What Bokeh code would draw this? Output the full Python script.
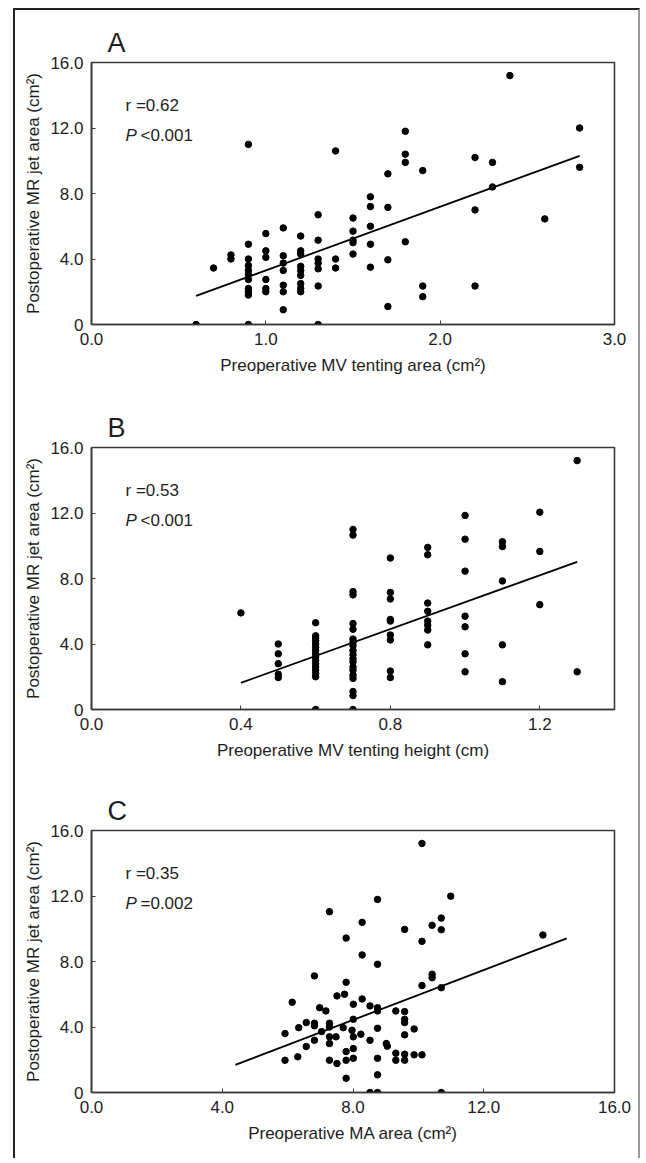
from bokeh.plotting import figure
from bokeh.layouts import column, row
from bokeh.models import FixedTicker, Label, Range1d, Spacer
from bokeh.embed import file_html
from bokeh.resources import INLINE

# ---------------- data ----------------
y_ticks = [0, 4, 8, 12, 16]
y_tick_labels = ["0", "4.0", "8.0", "12.0", "16.0"]
y_title = "Postoperative MR jet area (cm\u00b2)"

# Panel A: tenting area vs MR jet area
a_x = ([0.6, 0.7, 0.8, 0.8]
       + [0.9] * 11 + [1.0] * 6 + [1.1] * 7 + [1.2] * 9 + [1.3] * 7
       + [1.4] * 3 + [1.5] * 5 + [1.6] * 5 + [1.7] * 4 + [1.8] * 4
       + [1.9] * 3 + [2.2] * 3 + [2.3] * 2 + [2.4, 2.6, 2.8, 2.8])
a_y = ([0, 3.45, 4.25, 4.0]
       + [11.0, 4.9, 4.0, 3.6, 3.3, 3.05, 2.75, 2.2, 2.0, 1.8, 0]
       + [5.55, 4.5, 4.1, 2.75, 2.2, 2.0]
       + [5.9, 4.2, 3.75, 3.3, 2.4, 2.0, 0.9]
       + [5.4, 4.5, 4.3, 3.55, 3.3, 3.0, 2.5, 2.2, 2.0]
       + [6.7, 5.15, 4.0, 3.75, 3.4, 2.35, 0]
       + [10.6, 4.0, 3.45]
       + [6.5, 5.7, 5.15, 5.0, 4.3]
       + [7.8, 7.2, 6.0, 4.9, 3.5]
       + [9.2, 7.15, 3.95, 1.1]
       + [11.8, 10.4, 9.9, 5.05]
       + [9.4, 2.35, 1.7]
       + [10.2, 7.0, 2.35]
       + [9.9, 8.4]
       + [15.2, 6.45, 12.0, 9.6])
a_fit_x = [0.6, 2.8]
a_fit_y = [1.75, 10.3]
a_x_ticks = [0, 1, 2, 3]
a_x_labels = ["0.0", "1.0", "2.0", "3.0"]

# Panel B: tenting height vs MR jet area
b_x = ([0.4] + [0.5] * 5 + [0.6] * 16 + [0.7] * 20 + [0.8] * 9
       + [0.9] * 8 + [1.0] * 7 + [1.1] * 5 + [1.2] * 3 + [1.3] * 2)
b_y = ([5.9]
       + [4.0, 3.4, 2.8, 2.15, 1.95]
       + [5.3, 4.5, 4.35, 4.2, 4.0, 3.8, 3.6, 3.4, 3.2, 3.0, 2.8, 2.6, 2.4, 2.2, 2.0, 0]
       + [11.0, 10.65, 7.2, 7.0, 5.25, 4.9, 4.3, 4.1, 3.9, 3.6, 3.35, 3.1, 2.9,
          2.6, 2.4, 2.1, 1.9, 1.1, 0.85, 0]
       + [9.25, 7.15, 6.75, 5.5, 5.4, 4.55, 4.25, 2.35, 1.95]
       + [9.9, 9.45, 6.5, 6.0, 5.4, 5.15, 4.85, 3.95]
       + [11.85, 10.4, 8.45, 5.7, 5.05, 3.4, 2.3]
       + [10.25, 9.95, 7.85, 3.95, 1.7]
       + [12.05, 9.65, 6.4]
       + [15.2, 2.3])
b_fit_x = [0.4, 1.3]
b_fit_y = [1.63, 9.02]
b_x_ticks = [0, 0.4, 0.8, 1.2]
b_x_labels = ["0.0", "0.4", "0.8", "1.2"]

# Panel C: MA area vs MR jet area
c_x = [5.92, 5.92, 6.14, 6.31, 6.34, 6.57, 6.57, 6.82, 6.82, 6.82, 6.82, 6.98,
       7.04, 7.17, 7.28, 7.28, 7.28, 7.28, 7.28, 7.28, 7.48, 7.51, 7.51, 7.7,
       7.74, 7.79, 7.79, 7.79, 7.79, 7.79, 7.97, 8.01, 8.01, 8.01, 8.01, 8.01,
       8.28, 8.28, 8.28, 8.24, 8.52, 8.52, 8.52, 8.75, 8.75, 8.75, 8.75, 8.75,
       8.75, 8.75, 8.75, 9.02, 9.05, 9.31, 9.31, 9.31, 9.58, 9.58, 9.58, 9.58,
       9.58, 9.58, 9.58, 9.87, 9.87, 10.11, 10.11, 10.11, 10.11, 10.42, 10.42,
       10.42, 10.7, 10.7, 10.7, 10.7, 10.99, 13.81]
c_y = [3.6, 1.97, 5.51, 2.18, 3.96, 4.27, 2.81, 7.12, 4.23, 4.07, 3.19, 5.18,
       3.72, 4.98, 11.04, 4.23, 4.0, 3.4, 2.99, 1.97, 3.4, 5.9, 1.77, 3.96,
       6.0, 9.43, 6.73, 2.5, 1.97, 0.87, 3.8, 5.39, 4.47, 3.4, 2.68, 2.09,
       10.39, 8.4, 5.71, 3.56, 5.29, 3.19, 0, 11.79, 7.83, 5.18, 4.98, 3.92,
       2.09, 1.08, 0, 2.99, 2.83, 4.98, 2.4, 1.97, 9.96, 4.94, 4.47, 4.27,
       3.52, 2.34, 1.97, 3.88, 2.3, 15.21, 9.23, 6.53, 2.3, 10.21, 7.22,
       7.01, 10.65, 9.94, 6.4, 0, 11.99, 9.62]
c_fit_x = [4.4, 14.54]
c_fit_y = [1.69, 9.41]
c_x_ticks = [0, 4, 8, 12, 16]
c_x_labels = ["0.0", "4.0", "8.0", "12.0", "16.0"]

# ---------------- style ----------------
FONT = "Liberation Sans"
INK = "#1e1e1e"
FRAME = "#3a3a3a"
W = 627
FRAME_W = 523
FRAME_H = 262


def panel(letter, xs, ys, fx, fy, xmax, xticks, xlabels, xtitle, r_txt, p_txt,
          height, bottom, css):
    p = figure(width=W, height=height, x_range=Range1d(0, xmax),
               y_range=Range1d(0, 16), output_backend="svg",
               toolbar_location=None, min_border_left=76, min_border_right=28,
               min_border_top=52, min_border_bottom=bottom, styles=css)
    p.grid.visible = False
    p.outline_line_color = FRAME
    p.outline_line_width = 1.6
    p.outline_line_alpha = 1.0
    p.background_fill_color = "white"
    p.border_fill_color = "white"

    p.title.text = letter
    p.title.align = "left"
    p.title.offset = 16
    p.title.standoff = 10
    p.title.text_font = FONT
    p.title.text_font_size = "27px"
    p.title.text_font_style = "normal"
    p.title.text_color = INK

    for ax in (p.xaxis[0], p.yaxis[0]):
        ax.axis_line_color = FRAME
        ax.axis_line_width = 1.6
        ax.major_tick_in = 4
        ax.major_tick_out = 0
        ax.major_tick_line_color = FRAME
        ax.minor_tick_line_color = None
        ax.major_label_text_font = FONT
        ax.major_label_text_font_size = "17px"
        ax.major_label_text_color = INK
        ax.axis_label_text_font = FONT
        ax.axis_label_text_font_size = "17px"
        ax.axis_label_text_font_style = "normal"
        ax.axis_label_text_color = INK

    p.xaxis.ticker = FixedTicker(ticks=xticks)
    p.xaxis.major_label_overrides = {t: l for t, l in zip(xticks, xlabels)}
    p.xaxis.major_label_standoff = 8
    p.xaxis.axis_label = xtitle
    p.xaxis.axis_label_standoff = 8

    p.yaxis.ticker = FixedTicker(ticks=y_ticks)
    p.yaxis.major_label_overrides = {t: l for t, l in zip(y_ticks, y_tick_labels)}
    p.yaxis.major_label_standoff = 8
    p.yaxis.axis_label = y_title
    p.yaxis.axis_label_standoff = 4

    p.line(fx, fy, line_color="black", line_width=1.8)
    p.scatter(xs, ys, size=6.5, color="black")

    dx = xmax / FRAME_W
    dy = 16 / FRAME_H
    p.add_layout(Label(x=34 * dx, y=16 - 43 * dy, text=r_txt,
                       text_font=FONT, text_font_size="17px", text_color=INK,
                       text_baseline="alphabetic"))
    p.add_layout(Label(x=34 * dx, y=16 - 73 * dy, text="P",
                       text_font=FONT, text_font_size="17px", text_color=INK,
                       text_font_style="italic", text_baseline="alphabetic"))
    p.add_layout(Label(x=49 * dx, y=16 - 73 * dy, text=p_txt,
                       text_font=FONT, text_font_size="17px", text_color=INK,
                       text_baseline="alphabetic"))
    return p


side = {"border-left": "2px solid #222", "border-right": "2px solid #9a9a9a"}
top = dict(side, **{"border-top": "2px solid #222"})

pa = panel("A", a_x, a_y, a_fit_x, a_fit_y, 3.0, a_x_ticks, a_x_labels,
           "Preoperative MV tenting area (cm\u00b2)", "r =0.62", "<0.001",
           387, 73, top)
pb = panel("B", b_x, b_y, b_fit_x, b_fit_y, 1.4, b_x_ticks, b_x_labels,
           "Preoperative MV tenting height (cm)", "r =0.53", "<0.001",
           383, 69, side)
pc = panel("C", c_x, c_y, c_fit_x, c_fit_y, 16.0, c_x_ticks, c_x_labels,
           "Preoperative MA area (cm\u00b2)", "r =0.35", "=0.002",
           380, 66, side)

layout = column(Spacer(width=10, height=8),
                row(Spacer(width=13, height=10),
                    column(pa, pb, pc, spacing=0), spacing=0),
                spacing=0)

open("out.html", "w").write(file_html(layout, INLINE))
